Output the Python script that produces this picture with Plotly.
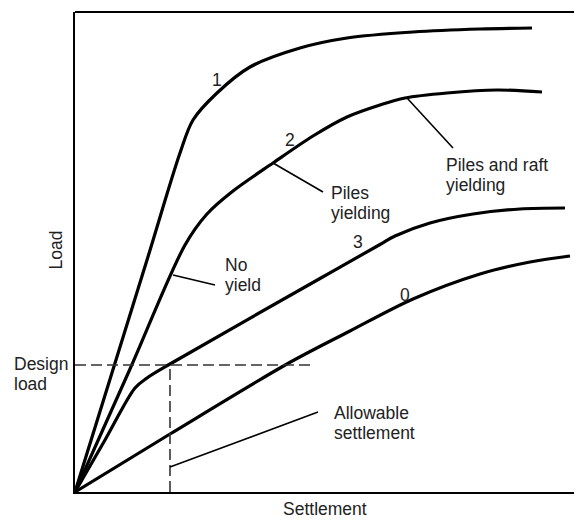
import plotly.graph_objects as go

# Settlement (x) and Load (y), arbitrary units
curve1_x = [0, 14.4, 21, 23.6, 28.4, 35, 45, 54.4, 67.6, 81, 91.4]
curve1_y = [0, 46.4, 67.8, 74.4, 79.8, 85, 88.8, 90.8, 92, 92.6, 92.8]

curve2_x = [0, 11, 22, 26.4, 31.6, 39.6, 47.6, 54.4, 61, 66, 74.4, 84.4, 93.4]
curve2_y = [0, 24.6, 49.4, 55.6, 60.2, 65.8, 71.2, 75, 77.4, 78.8, 79.8, 80.4, 80]

curve3_x = [0, 6, 12, 14.4, 19, 49, 61, 64, 71, 79.6, 89, 98]
curve3_y = [0, 10.4, 20.8, 22.8, 25.6, 42.7, 49.5, 51.2, 53.8, 55.6, 56.6, 56.8]

curve0_x = [0, 19, 42.4, 55, 67.6, 81, 91, 99]
curve0_y = [0, 11.6, 25.6, 32.2, 38.6, 43.6, 46, 47.2]

design_load = 25.4
allowable_settlement = 19
design_line_end = 47.4

curve_labels = ["1", "2", "3", "0"]
curve_label_x = [28.4, 43.0, 56.6, 66.0]
curve_label_y = [82.4, 70.4, 50.0, 39.4]

# (text lines, left x, centre y of each line, leader start, leader end)
callouts = [
    (["Piles and raft", "yielding"], 73.8, [65.4, 61.4], (66.4, 78.8), (75.6, 68.8)),
    (["Piles", "yielding"], 50.8, [59.8, 55.8], (39.6, 65.8), (49.6, 60.0)),
    (["No", "yield"], 29.6, [45.4, 41.4], (19.6, 43.4), (28.0, 41.4)),
    (["Allowable", "settlement"], 51.4, [15.8, 11.8], (19.0, 5.0), (48.6, 16.0)),
]

X_MAX = 101.4
Y_MAX = 96.0

design_text = ["Design", "load"]
design_text_x = -12.6
design_text_y = [25.6, 21.6]

FONT = "Liberation Sans, Arial, sans-serif"
FS = 17.5
TXT = "#222"

fig = go.Figure()
for xs, ys in [(curve1_x, curve1_y), (curve2_x, curve2_y),
               (curve3_x, curve3_y), (curve0_x, curve0_y)]:
    fig.add_trace(go.Scatter(x=xs, y=ys, mode="lines",
                             line=dict(color="black", width=3.2,
                                       shape="spline", smoothing=0.9),
                             showlegend=False, hoverinfo="skip"))

# dashed design lines
fig.add_trace(go.Scatter(x=[0, design_line_end], y=[design_load, design_load],
                         mode="lines", line=dict(color="#333", width=1.6, dash="11px,5px"),
                         showlegend=False, hoverinfo="skip"))
fig.add_trace(go.Scatter(x=[allowable_settlement, allowable_settlement], y=[0, design_load],
                         mode="lines", line=dict(color="#333", width=1.6, dash="11px,5px"),
                         showlegend=False, hoverinfo="skip"))

annotations = []
for t, x, y in zip(curve_labels, curve_label_x, curve_label_y):
    annotations.append(dict(x=x, y=y, xref="x", yref="y", text=t, showarrow=False,
                            xanchor="center", yanchor="middle",
                            font=dict(family=FONT, size=FS, color=TXT)))

shapes = []
for lines, lx, ys, p0, p1 in callouts:
    for t, yy in zip(lines, ys):
        annotations.append(dict(x=lx, y=yy, xref="x", yref="y", text=t, showarrow=False,
                                xanchor="left", yanchor="middle",
                                font=dict(family=FONT, size=FS, color=TXT)))
    shapes.append(dict(type="line", xref="x", yref="y", x0=p0[0], y0=p0[1],
                       x1=p1[0], y1=p1[1], line=dict(color="black", width=1.6)))

# texts outside the axis ranges use paper coordinates
for t, yy in zip(design_text, design_text_y):
    annotations.append(dict(x=design_text_x / X_MAX, y=yy / Y_MAX, xref="paper", yref="paper",
                            text=t, showarrow=False, xanchor="left", yanchor="middle",
                            font=dict(family=FONT, size=FS, color=TXT)))

annotations.append(dict(x=50.0 / X_MAX, y=-3.5 / Y_MAX, xref="paper", yref="paper",
                        text="Settlement", showarrow=False,
                        xanchor="center", yanchor="middle",
                        font=dict(family=FONT, size=FS, color=TXT)))
annotations.append(dict(x=-3.9 / X_MAX, y=48.4 / Y_MAX, xref="paper", yref="paper",
                        text="Load", textangle=-90, showarrow=False,
                        xanchor="center", yanchor="middle",
                        font=dict(family=FONT, size=FS, color=TXT)))

# top border
shapes.append(dict(type="line", xref="paper", yref="paper", x0=0, x1=1, y0=1, y1=1,
                   line=dict(color="black", width=2)))

fig.update_layout(
    width=582, height=520,
    margin=dict(l=67, r=8, t=4, b=36),
    paper_bgcolor="white", plot_bgcolor="white",
    annotations=annotations, shapes=shapes,
    xaxis=dict(range=[0, X_MAX], showgrid=False, zeroline=False, showticklabels=False,
               ticks="", showline=True, linecolor="black", linewidth=2.2),
    yaxis=dict(range=[0, Y_MAX], showgrid=False, zeroline=False, showticklabels=False,
               ticks="", showline=True, linecolor="black", linewidth=2.2),
)

fig.write_html("out.html")
